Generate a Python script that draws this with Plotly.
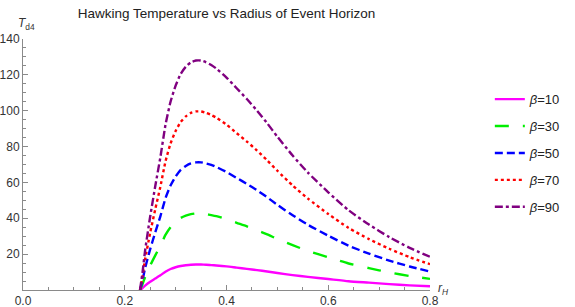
import plotly.graph_objects as go

r_H = [0.230, 0.235, 0.240, 0.250, 0.260, 0.270, 0.280, 0.290, 0.300, 0.310, 0.320,
       0.330, 0.340, 0.350, 0.360, 0.370, 0.380, 0.400, 0.420, 0.440, 0.460, 0.480,
       0.500, 0.530, 0.560, 0.600, 0.640, 0.680, 0.720, 0.760, 0.800]

T_beta10 = [0, 1.1, 2.4, 4.6, 6.4, 8.2, 10.2, 11.7, 12.7, 13.4, 13.8, 14.1, 14.2, 14.2, 14.1,
            13.9, 13.7, 13.2, 12.5, 11.8, 11.1, 10.3, 9.5, 8.3, 7.3, 6.1, 4.9, 4.1, 3.3, 2.6, 2.1]
T_beta30 = [0, 3.3, 7.3, 13.7, 19.3, 24.7, 30.7, 35, 38, 40.2, 41.5, 42.3, 42.7, 42.7, 42.3,
            41.8, 41.2, 39.5, 37.5, 35.5, 33.3, 31, 28.5, 25, 21.8, 18.2, 14.8, 12.2, 9.8, 7.8, 6.2]
T_beta50 = [0, 5.6, 12.2, 22.8, 32.2, 41.1, 51.1, 58.3, 63.3, 67, 69.2, 70.6, 71.2, 71.2, 70.6,
            69.8, 68.6, 65.8, 62.5, 59.2, 55.6, 51.7, 47.5, 41.7, 36.4, 30.3, 24.7, 20.3, 16.4, 13.1, 10.3]
T_beta70 = [0, 7.8, 17.1, 31.9, 45.1, 57.6, 71.6, 81.7, 88.7, 93.7, 96.8, 98.8, 99.6, 99.6, 98.8,
            97.6, 96.1, 92.2, 87.5, 82.8, 77.8, 72.3, 66.5, 58.3, 51, 42.4, 34.6, 28.4, 23, 18.3, 14.4]
T_beta90 = [0, 10, 22, 41, 58, 74, 92, 105, 114, 120.5, 124.5, 127, 128, 128, 127,
            125.5, 123.5, 118.5, 112.5, 106.5, 100, 93, 85.5, 75, 65.5, 54.5, 44.5, 36.5, 29.5, 23.5, 18.5]

series_names = ["<i>β</i>=10", "<i>β</i>=30", "<i>β</i>=50", "<i>β</i>=70", "<i>β</i>=90"]
series_values = [T_beta10, T_beta30, T_beta50, T_beta70, T_beta90]
colors = ["#FF00FF", "#00EE00", "#0000FF", "#FF0000", "#800080"]
dashes = ["solid", "14px,14px", "8px,4px", "3px,3px", "8px,3px,3px,3px"]

x_ticks = [0.0, 0.2, 0.4, 0.6, 0.8]
x_tick_text = ["0.0", "0.2", "0.4", "0.6", "0.8"]
y_ticks = [20, 40, 60, 80, 100, 120, 140]

fig = go.Figure()
for i, (name, vals) in enumerate(zip(series_names, series_values)):
    fig.add_trace(go.Scatter(
        x=r_H, y=vals, mode="lines", name=name, legendgroup=f"g{i}",
        line=dict(color=colors[i], width=2.4, dash=dashes[i], shape="spline", smoothing=0.6),
    ))

axis_col = "#8a8a8a"
fig.update_layout(
    width=575, height=307,
    margin=dict(l=23, r=145, t=39, b=17, autoexpand=False),
    paper_bgcolor="white", plot_bgcolor="white",
    font=dict(family="Liberation Sans, Arial, sans-serif", size=12, color="#333333"),
    title=dict(text="Hawking Temperature vs Radius of Event Horizon",
               x=226.5 / 575, xanchor="center", y=1 - 13 / 307, yanchor="middle",
               yref="container", automargin=False,
               font=dict(size=13.5, color="#222222")),
    showlegend=True,
    legend=dict(x=1.147, xanchor="left", y=0.82, yanchor="top",
                font=dict(size=13, color="#222222"), tracegroupgap=7,
                bgcolor="rgba(0,0,0,0)"),
    xaxis=dict(range=[0, 0.8], tickvals=x_ticks, ticktext=x_tick_text, automargin=False,
               showgrid=False, zeroline=False, showline=True, linecolor=axis_col, linewidth=1,
               ticks="inside", ticklen=5, tickcolor=axis_col,
               minor=dict(ticks="inside", dtick=0.05, ticklen=3, tickcolor=axis_col, showgrid=False)),
    yaxis=dict(range=[0, 140], tickvals=y_ticks, automargin=False,
               showgrid=False, zeroline=False, showline=True, linecolor=axis_col, linewidth=1,
               ticks="inside", ticklen=5, tickcolor=axis_col,
               minor=dict(ticks="inside", dtick=5, ticklen=3, tickcolor=axis_col, showgrid=False)),
)

fig.add_annotation(text="<i>T</i><sub>d4</sub>", xref="paper", yref="paper",
                   x=0.0, y=1.0, xanchor="left", yanchor="bottom", xshift=-7, yshift=5,
                   showarrow=False, font=dict(size=12, color="#333333"))
fig.add_annotation(text="<i>r</i><sub><i>H</i></sub>", xref="paper", yref="paper",
                   x=1.0, y=0.0, xanchor="left", yanchor="middle", xshift=6, yshift=1,
                   showarrow=False, font=dict(size=12, color="#333333"))

fig.write_html("out.html", config={"displayModeBar": False},
               post_script="document.body.style.margin='0';document.body.style.overflow='hidden';")
